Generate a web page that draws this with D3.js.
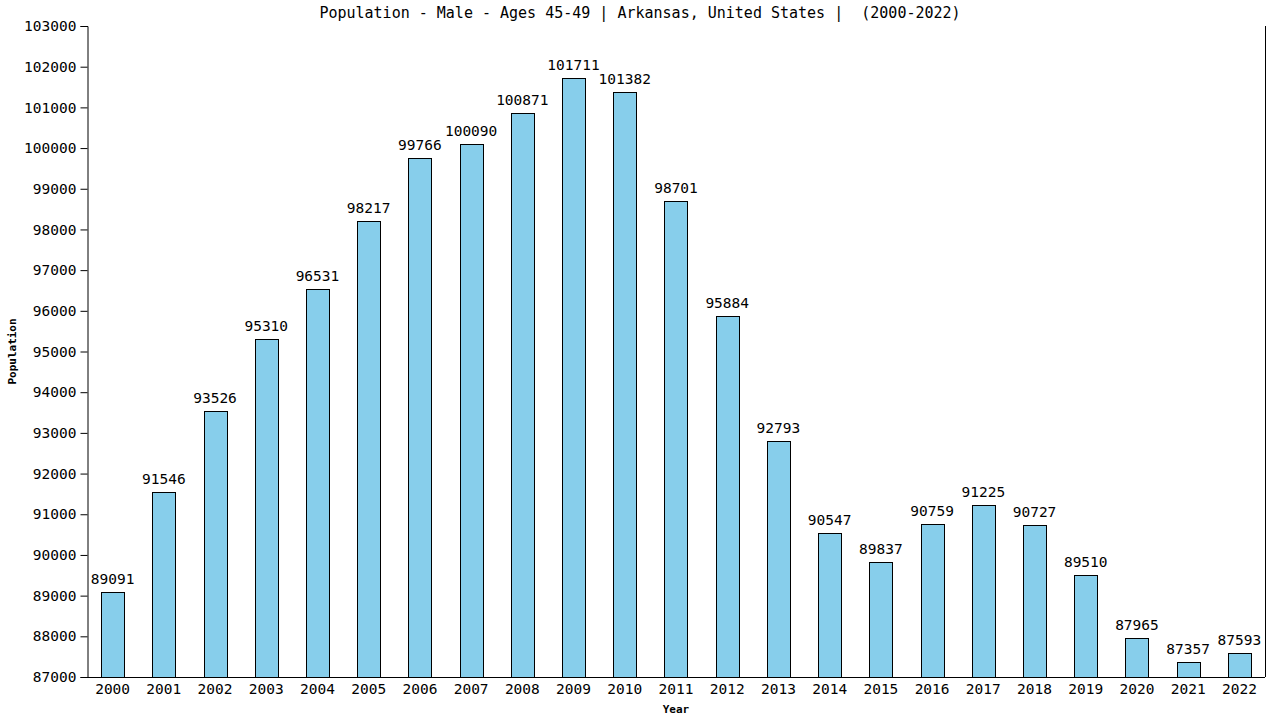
<!DOCTYPE html>
<html>
<head>
<meta charset="utf-8">
<script src="https://cdn.jsdelivr.net/npm/d3@7"></script>
<style>
  body { margin: 0; background: #fff; }
  text { font-family: "DejaVu Sans Mono", monospace; fill: #000; }
</style>
</head>
<body>
<svg id="chart" width="1280" height="720"></svg>
<script>
// chart data
var years = ["2000","2001","2002","2003","2004","2005","2006","2007","2008","2009","2010",
             "2011","2012","2013","2014","2015","2016","2017","2018","2019","2020","2021","2022"];
var population = [89091,91546,93526,95310,96531,98217,99766,100090,100871,101711,101382,
                  98701,95884,92793,90547,89837,90759,91225,90727,89510,87965,87357,87593];
var yTicks = [87000,88000,89000,90000,91000,92000,93000,94000,95000,96000,97000,98000,
              99000,100000,101000,102000,103000];

var titleText = "Population - Male - Ages 45-49 | Arkansas, United States |  (2000-2022)";

var margin = {top: 26, right: 15, bottom: 43, left: 87};
var width = 1280, height = 720;

var svg = d3.select("#chart");

var x = d3.scaleBand()
  .domain(years)
  .range([margin.left, width - margin.right])
  .paddingInner(0.55)
  .paddingOuter(0.275);

var y = d3.scaleLinear()
  .domain([87000, 103000])
  .range([height - margin.bottom, margin.top]);

// bars
svg.append("g").selectAll("rect")
  .data(population)
  .enter().append("rect")
    .attr("x", function(d, i) { return Math.round(x(years[i])) + 0.5; })
    .attr("y", function(d) { return Math.round(y(d)) + 0.5; })
    .attr("width", Math.round(x.bandwidth()))
    .attr("height", function(d) { return Math.round(y(87000)) - Math.round(y(d)); })
    .attr("fill", "#87ceeb")
    .attr("stroke", "#000")
    .attr("stroke-width", 1);

// value labels
svg.append("g").selectAll("text")
  .data(population)
  .enter().append("text")
    .attr("x", function(d, i) { return x(years[i]) + x.bandwidth() / 2; })
    .attr("y", function(d) { return y(d) - 8; })
    .attr("text-anchor", "middle")
    .style("font-size", "14.5px")
    .text(function(d) { return d; });

// y axis
var yAxis = svg.append("g")
  .attr("transform", "translate(" + (margin.left + 0.5) + ",0)")
  .call(d3.axisLeft(y).tickValues(yTicks).tickSize(7).tickPadding(4).tickFormat(d3.format("d")));
yAxis.selectAll("text").style("font-size", "14.5px");

// x axis
var xAxis = svg.append("g")
  .attr("transform", "translate(0," + (height - margin.bottom + 0.5) + ")")
  .call(d3.axisBottom(x).tickSize(0).tickPadding(6));
xAxis.select(".domain").attr("d", "M" + margin.left + ",0H" + (width - margin.right));
xAxis.selectAll("text").style("font-size", "14.5px");

// right border line
svg.append("line")
  .attr("x1", width - margin.right + 0.5).attr("x2", width - margin.right + 0.5)
  .attr("y1", margin.top).attr("y2", height - margin.bottom)
  .attr("stroke", "#000");

svg.selectAll(".domain, .tick line").attr("stroke", "#000");

// title (keeps the double space)
svg.append("text")
  .attr("x", 640).attr("y", 18)
  .attr("text-anchor", "middle")
  .style("font-size", "15px")
  .style("white-space", "pre")
  .attr("xml:space", "preserve")
  .text(titleText);

// axis titles
svg.append("text")
  .attr("x", (margin.left + width - margin.right) / 2).attr("y", 713)
  .attr("text-anchor", "middle")
  .style("font-size", "11px").style("font-weight", "bold")
  .text("Year");

svg.append("text")
  .attr("transform", "translate(16," + (height - margin.bottom + margin.top) / 2 + ") rotate(-90)")
  .attr("text-anchor", "middle")
  .style("font-size", "11px").style("font-weight", "bold")
  .text("Population");
</script>
</body>
</html>
